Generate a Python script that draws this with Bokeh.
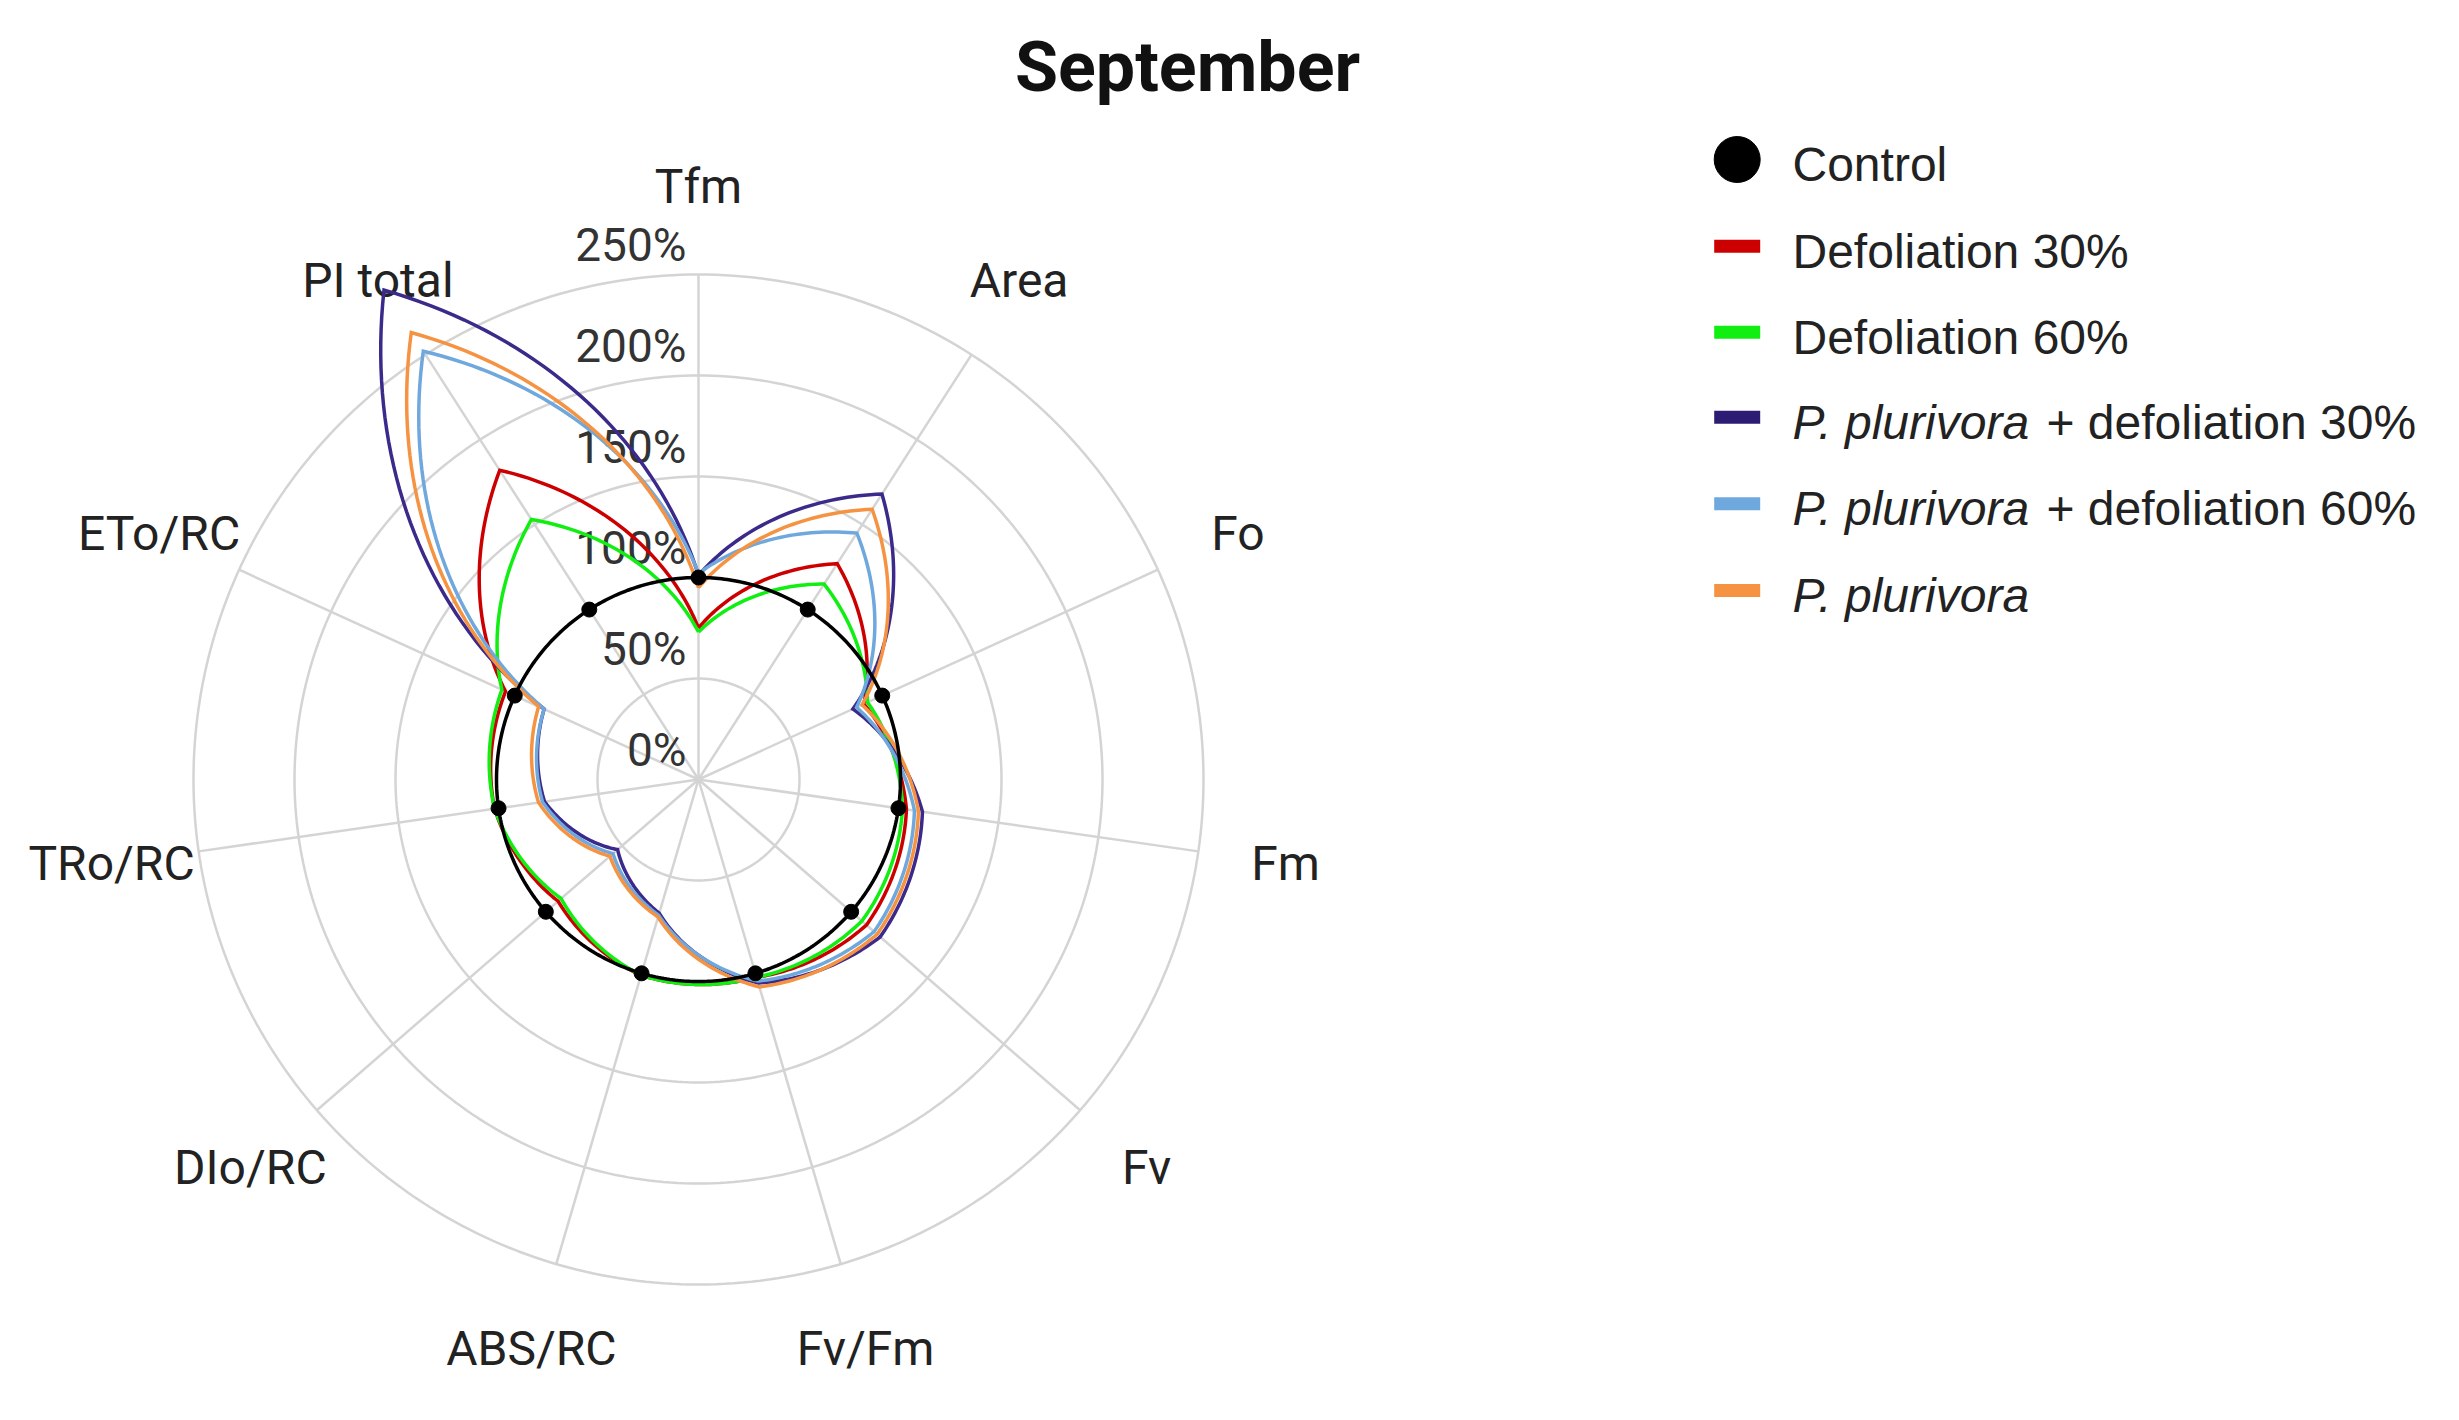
import numpy as np
from bokeh.plotting import figure
from bokeh.models import Range1d
from bokeh.core.properties import value
from bokeh.embed import file_html
from bokeh.resources import INLINE

# ---------------- data ----------------
axis_labels = ["Tfm", "Area", "Fo", "Fm", "Fv", "Fv/Fm", "ABS/RC", "DIo/RC", "TRo/RC", "ETo/RC", "PI total"]
control     = [100, 100, 100, 100, 100, 100, 100, 100, 100, 100, 100]
defol_30    = [75, 127, 90, 104, 110, 102, 101, 92, 102, 105, 182]
defol_60    = [73, 115, 92, 102, 107, 102, 101, 90, 102, 107, 153]
pp_defol_30 = [101, 168, 84, 112, 119, 105, 69, 53, 77, 84, 288]
pp_defol_60 = [102, 145, 86, 108, 115, 104, 70, 56, 78, 84, 252]
pp_only     = [95, 159, 89, 110, 117, 107, 71, 58, 80, 87, 263]

radial_ticks = [0, 50, 100, 150, 200, 250]
radial_tick_labels = ["0%", "50%", "100%", "150%", "200%", "250%"]

series_names = ["Control", "Defoliation 30%", "Defoliation 60%",
                "P. plurivora + defoliation 30%", "P. plurivora + defoliation 60%", "P. plurivora"]
legend_italic = ["", "", "", "P. plurivora", "P. plurivora", "P. plurivora"]
legend_regular = ["Control", "Defoliation 30%", "Defoliation 60%", "+ defoliation 30%", "+ defoliation 60%", ""]
series_colors = ["#000000", "#cc0000", "#11ee11", "#3b2a8a", "#6fa8dc", "#f59342"]
legend_colors = ["#000000", "#cc0000", "#11ee11", "#2c1c74", "#6fa8dc", "#f59342"]
title_text = "September"

# ---------------- geometry ----------------
W, H = 2440, 1400
K = 2.02            # screen px per percent
CX, CY = 698, 779   # centre of the radar (page coordinates)
FONT = value("Roboto")
LFONT = value("Liberation Sans")


def d(X, Y):
    """page pixel -> data units"""
    return (X - CX) / K, (CY - Y) / K


n = len(axis_labels)
angles = np.arange(n) * 2 * np.pi / n


def polar_path(vals, steps=40):
    xs, ys = [], []
    for i in range(n):
        v0, v1 = vals[i], vals[(i + 1) % n]
        t0, t1 = angles[i], angles[i] + 2 * np.pi / n
        for s in np.linspace(0, 1, steps, endpoint=False):
            t = t0 + (t1 - t0) * s
            r = v0 + (v1 - v0) * s
            xs.append(r * np.sin(t))
            ys.append(r * np.cos(t))
    xs.append(xs[0])
    ys.append(ys[0])
    return xs, ys


p = figure(width=W, height=H, output_backend="svg", toolbar_location=None,
           x_range=Range1d(-CX / K, (W - CX) / K),
           y_range=Range1d((CY - H) / K, CY / K),
           x_axis_type=None, y_axis_type=None, min_border=0)
p.outline_line_color = None
p.background_fill_color = "white"
p.border_fill_color = "white"

# grid rings
tt = np.linspace(0, 2 * np.pi, 361)
ring_x = [list(r * np.sin(tt)) for r in radial_ticks[1:]]
ring_y = [list(r * np.cos(tt)) for r in radial_ticks[1:]]
p.multi_line(ring_x, ring_y, line_color="#d4d4d4", line_width=2.5)

# spokes
rmax = radial_ticks[-1]
spoke_x = [[0, rmax * np.sin(a)] for a in angles]
spoke_y = [[0, rmax * np.cos(a)] for a in angles]
p.multi_line(spoke_x, spoke_y, line_color="#d4d4d4", line_width=2.5)

# radial tick labels
p.text(x=[-12 / K] * len(radial_ticks), y=[r + 30 / K for r in radial_ticks], text=radial_tick_labels,
       text_font=FONT, text_font_size="46px", text_color="#333333",
       text_align="right", text_baseline="middle")

# axis labels
lab_r = 593 / K
p.text(x=list(lab_r * np.sin(angles)), y=list(lab_r * np.cos(angles)), text=axis_labels,
       text_font=FONT, text_font_size="48px", text_color="#222222",
       text_align="center", text_baseline="middle")

# series (draw coloured ones first, control last)
all_series = [control, defol_30, defol_60, pp_defol_30, pp_defol_60, pp_only]
for vals, col in list(zip(all_series, series_colors))[1:]:
    xs, ys = polar_path(vals)
    p.line(xs, ys, line_color=col, line_width=3.5, line_join="miter")

cx_, cy_ = polar_path(control)
p.line(cx_, cy_, line_color=series_colors[0], line_width=3.5)
p.scatter(x=list(np.array(control) * np.sin(angles)), y=list(np.array(control) * np.cos(angles)),
          size=15, color=series_colors[0])

# title
tx, ty = d(1187, 66)
p.text(x=[tx], y=[ty], text=[title_text], text_font=FONT, text_font_size="70px",
       text_font_style="bold", text_color="#111111", text_align="center", text_baseline="middle")

# legend (manual, to allow italic species name)
row_y = [159, 245.7, 331.7, 416.7, 503.3, 590]
sw_x = 1736.7
txt_x = 1792
reg_x = 2046
for i in range(len(series_names)):
    sx, sy = d(sw_x, row_y[i])
    if i == 0:
        p.scatter(x=[sx], y=[sy], size=46, color=legend_colors[i])
    else:
        p.rect(x=[sx], y=[sy], width=46, height=13, width_units="screen", height_units="screen",
               fill_color=legend_colors[i], line_color=None)
    lx, ly = d(txt_x, row_y[i] + 5)
    if legend_italic[i]:
        p.text(x=[lx], y=[ly], text=[legend_italic[i]], text_font=LFONT, text_font_size="48px",
               text_font_style="italic", text_color="#222222", text_align="left", text_baseline="middle")
        if legend_regular[i]:
            rx, _ = d(reg_x, row_y[i])
            p.text(x=[rx], y=[ly], text=[legend_regular[i]], text_font=LFONT, text_font_size="48px",
                   text_color="#222222", text_align="left", text_baseline="middle")
    else:
        p.text(x=[lx], y=[ly], text=[legend_regular[i]], text_font=LFONT, text_font_size="48px",
               text_color="#222222", text_align="left", text_baseline="middle")

open("out.html", "w").write(file_html(p, INLINE))
